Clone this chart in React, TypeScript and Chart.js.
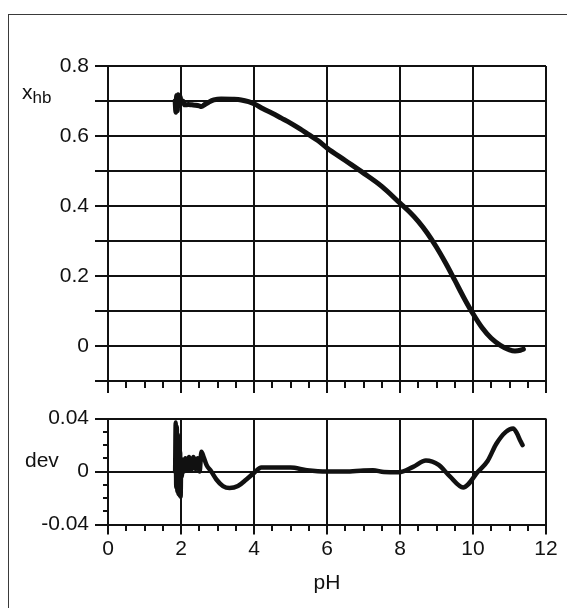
import React, { useEffect, useRef } from 'react';
import { Chart, registerables } from 'chart.js';

Chart.register(...registerables);

// ---- data ----
const phTop = [1.84, 1.86, 1.88, 1.9, 1.92, 1.95, 1.98, 2.0, 2.05, 2.1, 2.2, 2.3, 2.4, 2.5, 2.56, 2.65, 2.75, 2.9, 3.1, 3.4, 3.65, 3.85, 4.0, 4.25, 4.5, 4.75, 5.0, 5.25, 5.5, 5.75, 6.0, 6.5, 7.0, 7.5, 8.0, 8.25, 8.5, 8.75, 9.0, 9.25, 9.5, 9.75, 10.0, 10.25, 10.5, 10.75, 11.0, 11.15, 11.3, 11.38];
const xhb = [0.70, 0.668, 0.716, 0.672, 0.718, 0.686, 0.712, 0.694, 0.700, 0.689, 0.690, 0.689, 0.688, 0.686, 0.684, 0.690, 0.696, 0.703, 0.706, 0.705, 0.703, 0.698, 0.692, 0.678, 0.665, 0.651, 0.637, 0.621, 0.604, 0.587, 0.566, 0.530, 0.494, 0.456, 0.408, 0.384, 0.356, 0.322, 0.282, 0.237, 0.188, 0.138, 0.092, 0.052, 0.022, 0.002, -0.011, -0.014, -0.012, -0.009];

const phDev = [1.84, 1.855, 1.87, 1.885, 1.9, 1.915, 1.93, 1.945, 1.96, 1.975, 1.99, 2.005, 2.02, 2.05, 2.08, 2.12, 2.17, 2.22, 2.28, 2.34, 2.4, 2.46, 2.51, 2.56, 2.62, 2.7, 2.83, 2.97, 3.15, 3.33, 3.56, 3.79, 4.0, 4.2, 4.6, 5.0, 5.45, 6.0, 6.5, 7.0, 7.26, 7.56, 7.97, 8.36, 8.71, 9.06, 9.36, 9.73, 10.14, 10.4, 10.64, 10.9, 11.1, 11.2, 11.3, 11.36];
const dev = [0.0, 0.037, -0.012, 0.034, -0.015, 0.028, -0.017, 0.022, -0.018, 0.015, -0.019, 0.008, -0.004, 0.009, 0.0, 0.010, 0.001, 0.011, 0.001, 0.011, 0.002, 0.010, 0.0, 0.015, 0.011, 0.005, 0.0, -0.006, -0.011, -0.0125, -0.011, -0.006, -0.001, 0.003, 0.003, 0.003, 0.001, 0.0, 0.0, 0.0008, 0.001, -0.0004, -0.0006, 0.0035, 0.0083, 0.005, -0.0035, -0.012, 0.0, 0.008, 0.021, 0.030, 0.0325, 0.029, 0.023, 0.020];

const xTickLabels = ['0', '2', '4', '6', '8', '10', '12'];
const topYLabels = ['0.8', '0.6', '0.4', '0.2', '0'];
const devYLabels = ['0.04', '0', '-0.04'];

const INK = '#111111';
const CLEAR = 'rgba(0,0,0,0)';
const FONT = '"Liberation Sans", Arial, Helvetica, sans-serif';
const FS = 21;

const near = (a: number, b: number) => Math.abs(a - b) < 1e-6;
const labelFor = (list: string[], v: number) => {
  const hit = list.find((l) => near(parseFloat(l), v));
  return hit === undefined ? '' : hit;
};
const isMajorX = (v: number) => xTickLabels.some((l) => near(parseFloat(l), v));
const isMajorDev = (v: number) => devYLabels.some((l) => near(parseFloat(l), v));

function xScale(showLabels: boolean, height: number, title: boolean) {
  return {
    type: 'linear',
    position: 'bottom',
    min: 0,
    max: 12,
    afterFit: (s: any) => {
      s.height = height;
    },
    ticks: {
      display: showLabels,
      stepSize: 0.5,
      autoSkip: false,
      maxRotation: 0,
      padding: 2,
      color: INK,
      font: { family: FONT, size: FS },
      callback: (v: number) => labelFor(xTickLabels, v),
    },
    grid: {
      color: (ctx: any) => (ctx.tick && isMajorX(ctx.tick.value) ? INK : CLEAR),
      lineWidth: 2,
      tickLength: showLabels ? 10 : 12,
      tickColor: INK,
      tickWidth: 2,
      tickBorderDash: (ctx: any) =>
        ctx.tick && isMajorX(ctx.tick.value) ? [] : [showLabels ? 5 : 6, 60],
    },
    border: { display: true, color: INK, width: 2 },
    title: {
      display: title,
      text: 'pH',
      color: INK,
      font: { family: FONT, size: FS },
      padding: { top: 0, bottom: 12 },
    },
  };
}

export default function App() {
  const topRef = useRef<HTMLCanvasElement>(null);
  const botRef = useRef<HTMLCanvasElement>(null);

  useEffect(() => {
    const top = new Chart(topRef.current as HTMLCanvasElement, {
      type: 'line',
      data: {
        datasets: [
          {
            data: phTop.map((x, i) => ({ x, y: xhb[i] })),
            borderColor: INK,
            borderWidth: 5,
            pointRadius: 0,
            cubicInterpolationMode: 'monotone',
            borderJoinStyle: 'round',
            borderCapStyle: 'round',
            fill: false,
          },
        ],
      },
      options: {
        responsive: false,
        animation: false,
        events: [],
        layout: { padding: { top: 26, right: 21, left: 0, bottom: 0 } },
        plugins: { legend: { display: false }, tooltip: { enabled: false } },
        scales: {
          x: xScale(false, 19, false) as any,
          y: {
            min: -0.1,
            max: 0.8,
            afterFit: (s: any) => {
              s.width = 108;
            },
            ticks: {
              stepSize: 0.1,
              autoSkip: false,
              padding: 6,
              color: INK,
              font: { family: FONT, size: FS },
              callback: (v: number) => labelFor(topYLabels, v),
            },
            grid: { color: INK, lineWidth: 2, tickLength: 13, tickColor: INK, tickWidth: 2 },
            border: { display: true, color: INK, width: 2 },
          },
        },
      },
    } as any);

    const bot = new Chart(botRef.current as HTMLCanvasElement, {
      type: 'line',
      data: {
        datasets: [
          {
            data: phDev.map((x, i) => ({ x, y: dev[i] })),
            borderColor: INK,
            borderWidth: 4.5,
            pointRadius: 0,
            cubicInterpolationMode: 'monotone',
            borderJoinStyle: 'round',
            borderCapStyle: 'round',
            fill: false,
          },
        ],
      },
      options: {
        responsive: false,
        animation: false,
        events: [],
        layout: { padding: { top: 14, right: 21, left: 0, bottom: 0 } },
        plugins: { legend: { display: false }, tooltip: { enabled: false } },
        scales: {
          x: xScale(true, 83.5, true) as any,
          y: {
            min: -0.04,
            max: 0.04,
            afterFit: (s: any) => {
              s.width = 108;
            },
            ticks: {
              stepSize: 0.01,
              autoSkip: false,
              padding: 6,
              color: INK,
              font: { family: FONT, size: FS },
              callback: (v: number) => labelFor(devYLabels, v),
            },
            grid: {
              color: (ctx: any) => (ctx.tick && isMajorDev(ctx.tick.value) ? INK : CLEAR),
              lineWidth: 2,
              tickLength: 13,
              tickColor: INK,
              tickWidth: 2,
              // left-axis tick marks are stroked from their outer end toward the axis,
              // so minor ticks keep only the 5px next to the axis
              tickBorderDash: (ctx: any) =>
                ctx.tick && isMajorDev(ctx.tick.value) ? [] : [0, 8, 5, 100],
            },
            border: { display: true, color: INK, width: 2 },
          },
        },
      },
    } as any);

    return () => {
      top.destroy();
      bot.destroy();
    };
  }, []);

  return (
    <div style={{ position: 'fixed', inset: 0, overflow: 'hidden', background: '#fff' }}>
      <div
        style={{
          position: 'absolute',
          left: 8,
          top: 14,
          width: 700,
          height: 700,
          borderTop: '1.5px solid #3a3a3a',
          borderLeft: '1.5px solid #3a3a3a',
        }}
      />
      <canvas
        ref={topRef}
        width={567}
        height={360}
        style={{ position: 'absolute', left: 0, top: 40, width: 567, height: 360 }}
      />
      <canvas
        ref={botRef}
        width={567}
        height={208}
        style={{ position: 'absolute', left: 0, top: 400, width: 567, height: 208 }}
      />
      <div
        style={{
          position: 'absolute',
          left: 22,
          top: 81,
          fontFamily: FONT,
          fontSize: FS,
          lineHeight: 1,
          color: INK,
          whiteSpace: 'nowrap',
        }}
      >
        x<span style={{ fontSize: 17, position: 'relative', top: 4 }}>hb</span>
      </div>
      <div
        style={{
          position: 'absolute',
          left: 25,
          top: 449,
          fontFamily: FONT,
          fontSize: FS,
          lineHeight: 1,
          color: INK,
          whiteSpace: 'nowrap',
        }}
      >
        dev
      </div>
    </div>
  );
}
